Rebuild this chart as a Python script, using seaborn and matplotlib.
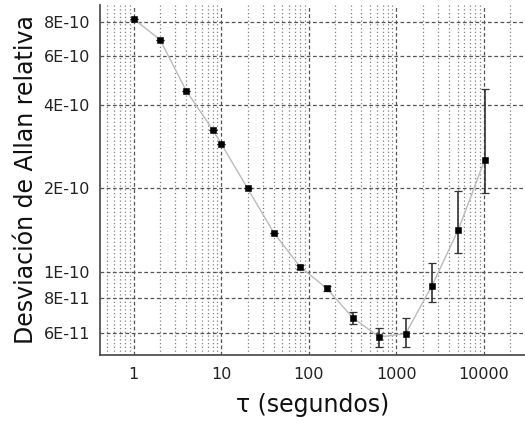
import matplotlib
matplotlib.use('Agg')
import matplotlib.pyplot as plt
import matplotlib.ticker as mticker
import numpy as np
import pandas as pd
import seaborn as sns

# data
tau = [1, 2, 4, 8, 10, 20, 40, 80, 160, 320, 640, 1280, 2560, 5120, 10240]
adev = [8.2e-10, 6.9e-10, 4.5e-10, 3.26e-10, 2.9e-10, 2.0e-10, 1.38e-10, 1.04e-10,
        8.7e-11, 6.8e-11, 5.8e-11, 5.97e-11, 8.9e-11, 1.42e-10, 2.54e-10]
err_low = [8.2e-10, 6.9e-10, 4.5e-10, 3.26e-10, 2.9e-10, 2.0e-10, 1.38e-10, 1.02e-10,
           8.5e-11, 6.44e-11, 5.36e-11, 5.36e-11, 7.79e-11, 1.17e-10, 1.93e-10]
err_high = [8.2e-10, 6.9e-10, 4.5e-10, 3.26e-10, 2.9e-10, 2.0e-10, 1.38e-10, 1.06e-10,
            8.9e-11, 7.17e-11, 6.28e-11, 6.77e-11, 1.078e-10, 1.96e-10, 4.58e-10]
y_ticks = [6e-11, 8e-11, 1e-10, 2e-10, 4e-10, 6e-10, 8e-10]
y_tick_labels = ['6E-11', '8E-11', '1E-10', '2E-10', '4E-10', '6E-10', '8E-10']
x_ticks = [1, 10, 100, 1000, 10000]
x_tick_labels = ['1', '10', '100', '1000', '10000']

df = pd.DataFrame({'tau': tau, 'adev': adev})

sns.set_style('white')
plt.rcParams['font.family'] = ['DejaVu Sans']

fig = plt.figure(figsize=(5.25, 4.25), dpi=100)
ax = fig.add_axes([0.19, 0.165, 0.81, 0.823])

ax.set_xscale('log')
ax.set_yscale('log')
ax.set_xlim(0.41, 29500)
ax.set_ylim(5.0e-11, 9.2e-10)

# grid
for d in [1, 10, 100, 1000, 10000]:
    ax.axvline(d, color='#555555', lw=0.9, ls=(0, (3, 2)), zorder=0)
for d in [0.1, 1, 10, 100, 1000, 10000]:
    for m in range(2, 10):
        v = d * m
        if 0.41 < v < 29500:
            ax.axvline(v, color='#808080', lw=0.9, ls=(0, (1, 2)), zorder=0)
for yt in y_ticks:
    ax.axhline(yt, color='#555555', lw=0.9, ls=(0, (3, 2)), zorder=0)

yerr = [np.array(adev) - np.array(err_low), np.array(err_high) - np.array(adev)]
ax.errorbar(tau, adev, yerr=yerr, fmt='none', ecolor='#333333', elinewidth=1.2,
            capsize=3, capthick=0.9, zorder=2)
sns.lineplot(data=df, x='tau', y='adev', ax=ax, color='#bbbbbb', lw=1.0, zorder=1)
sns.scatterplot(data=df, x='tau', y='adev', ax=ax, marker='s', color='black',
                s=25, edgecolor='black', zorder=3)

ax.yaxis.set_major_locator(mticker.FixedLocator(y_ticks))
ax.yaxis.set_major_formatter(mticker.FixedFormatter(y_tick_labels))
ax.yaxis.set_minor_locator(mticker.NullLocator())
ax.xaxis.set_major_locator(mticker.FixedLocator(x_ticks))
ax.xaxis.set_major_formatter(mticker.FixedFormatter(x_tick_labels))
ax.xaxis.set_minor_locator(mticker.LogLocator(base=10, subs=np.arange(2, 10)))
ax.xaxis.set_minor_formatter(mticker.NullFormatter())

ax.tick_params(axis='both', which='major', direction='out', length=4, width=1,
               color='#444444', labelsize=11.5, labelcolor='#222222')
ax.tick_params(axis='x', which='minor', direction='out', length=2.5, width=0.8,
               color='#444444')
ax.tick_params(axis='x', which='major', pad=5)
ax.tick_params(axis='y', which='major', pad=3)

for s in ['top', 'right']:
    ax.spines[s].set_visible(False)
for s in ['left', 'bottom']:
    ax.spines[s].set_color('#444444')
    ax.spines[s].set_linewidth(1.2)

ax.set_xlabel('τ (segundos)', fontsize=17, color='#111111', labelpad=8)
ax.set_ylabel('Desviación de Allan relativa', fontsize=17, color='#111111', labelpad=4)

fig.savefig('out.png', dpi=100)
